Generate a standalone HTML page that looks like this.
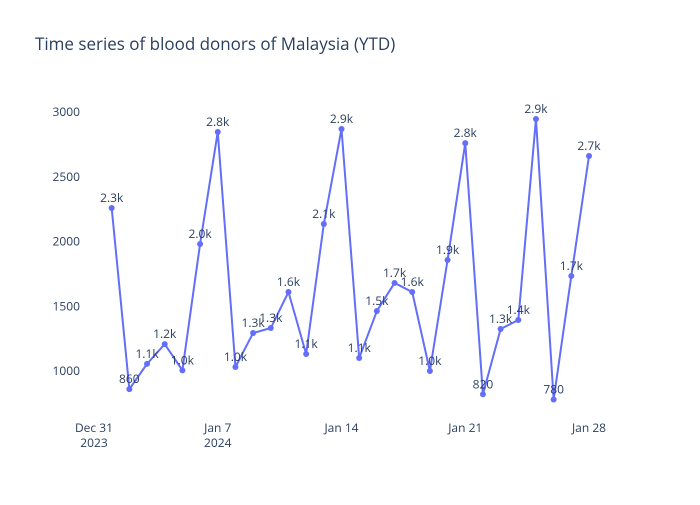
<!DOCTYPE html>
<html><head><meta charset="utf-8"><style>
body{margin:0;background:#fff;}
svg{font-family:"Open Sans","Liberation Sans",sans-serif;}
</style></head><body>
<svg id="chart" width="700" height="500">
<rect width="700" height="500" fill="#fff"/>
<text x="35" y="50" font-size="17" fill="#2a3f5f">Time series of blood donors of Malaysia (YTD)</text>
<g id="yaxis"></g>
<g id="xaxis"></g>
<g id="series"></g>
</svg>
<script>
const days = [1,2,3,4,5,6,7,8,9,10,11,12,13,14,15,16,17,18,19,20,21,22,23,24,25,26,27,28];
const donors = [2259,860,1055,1208,1005,1981,2846,1031,1293,1332,1610,1131,2135,2869,1100,1463,1680,1610,1000,1857,2760,820,1324,1394,2946,780,1734,2660];
const yTicks = [1000,1500,2000,2500,3000];
const xTickDays = [0,7,14,21,28];
const xTickLabels = [["Dec 31","2023"],["Jan 7","2024"],["Jan 14"],["Jan 21"],["Jan 28"]];

const NS="http://www.w3.org/2000/svg";
function xs(d){return 94+(d)*(589-94)/28;}
function ys(v){return 371-(v-1000)*(371-112)/2000;}
function fmt(v){ if(v<1000) return String(Math.round(v/10)*10); return (v/1000).toFixed(1)+"k"; }
function mk(tag,attrs,parent){const e=document.createElementNS(NS,tag);for(const k in attrs)e.setAttribute(k,attrs[k]);parent.appendChild(e);return e;}

const yg=document.getElementById('yaxis');
yTicks.forEach(t=>{
  const tx=mk('text',{x:80,y:ys(t)+4,'text-anchor':'end','font-size':12,fill:'#2a3f5f'},yg);
  tx.textContent=t;
  
  
});
const xg=document.getElementById('xaxis');
xTickDays.forEach((d,i)=>{
  xTickLabels[i].forEach((l,j)=>{
    const tx=mk('text',{x:xs(d),y:432+j*15,'text-anchor':'middle','font-size':12,fill:'#2a3f5f'},xg);
    tx.textContent=l;
    
    
  });
});
const sg=document.getElementById('series');
const pts=days.map((d,i)=>xs(d)+","+ys(donors[i])).join(" ");
const line=mk('polyline',{points:pts,fill:'none',stroke:'#636efa','stroke-width':2,'stroke-linejoin':'round'},sg);


days.forEach((d,i)=>{
  const c=mk('circle',{cx:xs(d),cy:ys(donors[i]),r:3,fill:'#636efa'},sg);
  
  
  const t=mk('text',{x:xs(d),y:ys(donors[i])-6,'text-anchor':'middle','font-size':12,fill:'#2a3f5f'},sg);
  t.textContent=fmt(donors[i]);
  
  
});
</script>
</body></html>
